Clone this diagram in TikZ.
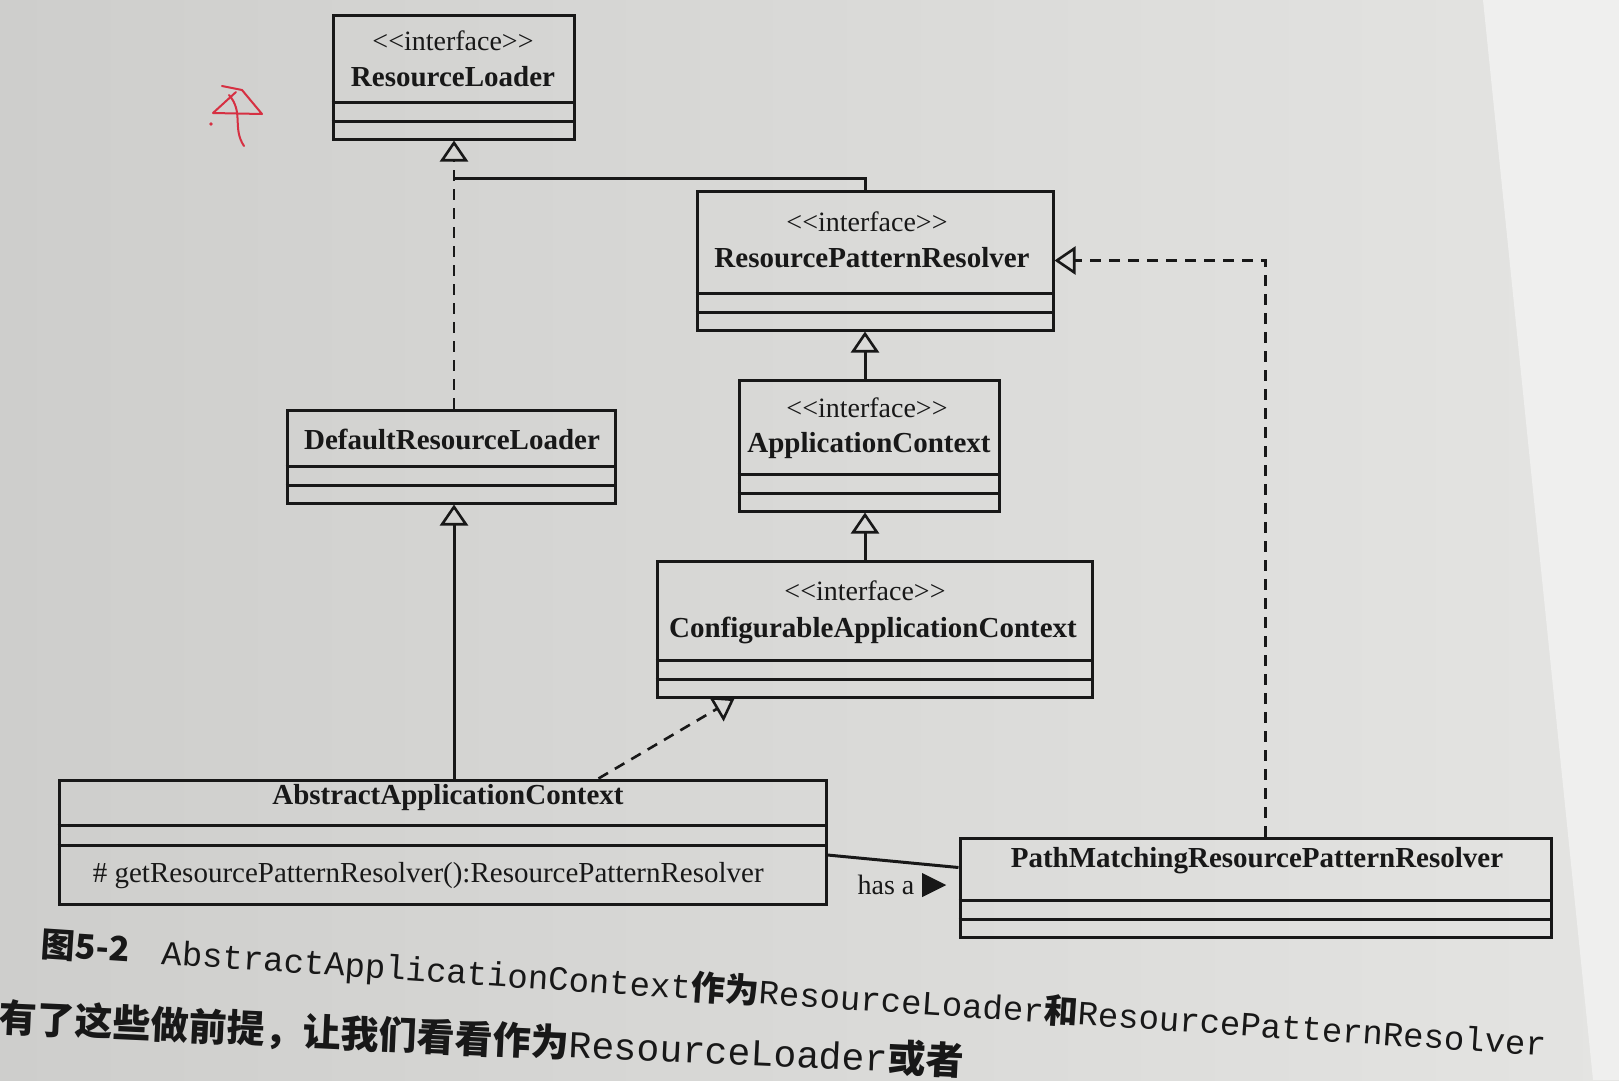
\documentclass[tikz,border=0pt]{standalone}
\usepackage{fontspec}
\setmainfont{Liberation Serif}
\newfontfamily\capmono{Liberation Mono}
\newfontfamily\cjk{Noto Sans CJK SC}
\usetikzlibrary{arrows.meta, calc}
\definecolor{paper}{RGB}{206,206,204}
\definecolor{paperlight}{RGB}{228,228,226}
\definecolor{ink}{RGB}{24,24,24}
\definecolor{pen}{RGB}{214,48,66}

\begin{document}
\begin{tikzpicture}[x=1pt, y=-1pt, line width=3pt, draw=ink, text=ink,
cls/.style ={draw, rectangle, inner sep=0pt},
stereo/.style ={font=\fontsize{28}{30}\selectfont},
cname/.style ={font=\fontsize{29}{31}\selectfont\bfseries},
gen/.style ={-{Triangle[open, length=21pt, width=28pt, line width=2.6pt]}},
real/.style ={gen, line width=2.6pt, dash pattern=on 11pt off 8pt}]
% page background
\useasboundingbox (0,0) rectangle (1619,1080);
\shade[left color=paper, right color=paperlight] (0,0) rectangle (1619,1080);
\fill[paperlight!60!white] (1483,0) -- (1619,0) -- (1619,1080) -- (1593,1080) -- cycle;

% classes
\node[cls, minimum width=241pt, minimum height=124pt] (rl) at (453.5,77) {};
\node[cls, minimum width=356pt, minimum height=139pt] (rpr) at (875,260.5) {};
\node[cls, minimum width=260pt, minimum height=131pt] (ac) at (869,445.5) {};
\node[cls, minimum width=435pt, minimum height=136pt] (cac) at (874.5,629) {};
\node[cls, minimum width=328pt, minimum height=93pt] (drl) at (451,456.5) {};
\node[cls, minimum width=767pt, minimum height=124pt] (aac) at (442.5,842) {};
\node[cls, minimum width=591pt, minimum height=99pt] (pm) at (1255.5,887.5) {};

\node[stereo] (rlst) at (453,41) {<\kern0pt<interface>\kern0pt>};
\node[cname] (rlname) at (453,77) {ResourceLoader};
\node[stereo] (rprst) at (867,222) {<\kern0pt<interface>\kern0pt>};
\node[cname] (rprname) at (872,258) {ResourcePatternResolver};
\node[stereo] (acst) at (867,408) {<\kern0pt<interface>\kern0pt>};
\node[cname] (acname) at (869,446) {ApplicationContext};
\node[stereo] (cacst) at (865,591) {<\kern0pt<interface>\kern0pt>};
\node[cname] (cacname) at (873,630) {ConfigurableApplicationContext};
\node[cname] (drlname) at (452,439) {DefaultResourceLoader};
\node[cname] (aacname) at (448,798) {AbstractApplicationContext};
\node[stereo, anchor=west, font=\fontsize{29}{31}\selectfont] (aacop) at (88,876)
  {\# getResourcePatternResolver():ResourcePatternResolver};
\node[cname] (pmname) at (1257,861) {PathMatchingResourcePatternResolver};

% compartments
\foreach \b in {rl,rpr,ac,cac,drl,pm}
  {\draw ([yshift=19pt]\b.south west) -- ([yshift=19pt]\b.south east);
   \draw ([yshift=38pt]\b.south west) -- ([yshift=38pt]\b.south east);}
\draw ([yshift=80pt]aac.south west) -- ([yshift=80pt]aac.south east);
\draw ([yshift=60pt]aac.south west) -- ([yshift=60pt]aac.south east);

% relations
\coordinate (lcol) at (454,0);
\coordinate (col) at (865,0);
\coordinate (join) at (454,178);
\draw[real] (drl.north -| lcol) -- (rl.south -| lcol);
\draw (rpr.north -| col) |- (join);
\draw[gen] (ac.north -| col) -- (rpr.south -| col);
\draw[gen] (cac.north -| col) -- (ac.south -| col);
\draw[gen] (aac.north -| lcol) -- (drl.south -| lcol);
\draw[real] ([xshift=156pt]aac.north) -- ([xshift=-140pt]cac.south);
\draw[real] ([xshift=10pt]pm.north) |- (rpr.east);
\draw ([yshift=-13pt]aac.east) -- ([yshift=20pt]pm.west);
\node[stereo] (hasa) at (886,885) {has a};
\fill[ink] ($(hasa.east)+(3,-12)$) -- ++(24,12) -- ++(-24,12) -- cycle;

% pen mark
\draw[pen, line width=2pt, line cap=round, line join=round]
  (222,86) -- (242,90) -- (262,114) -- (213,113) -- (236,92);
\draw[pen, line width=2pt, line cap=round] (229,95) .. controls (244,112) and (232,128) .. (244,146);
\fill[pen] (211,124) circle (1.8pt);

% caption and text
\node[anchor=west, rotate=-3.8, inner sep=0pt, font=\fontsize{34}{36}\selectfont] (cap) at (40,945)
  {{\cjk\bfseries 图5-2}\hspace{32pt}{\capmono AbstractApplicationContext}{\cjk\bfseries 作为}{\capmono ResourceLoader}{\cjk\bfseries 和}{\capmono ResourcePatternResolver}};
\node[anchor=west, rotate=-2.6, inner sep=0pt, font=\fontsize{38}{40}\selectfont] (body) at (-2,1018)
  {{\cjk\bfseries 有了这些做前提，让我们看看作为}{\capmono ResourceLoader}{\cjk\bfseries 或者}};
\end{tikzpicture}
\end{document}
